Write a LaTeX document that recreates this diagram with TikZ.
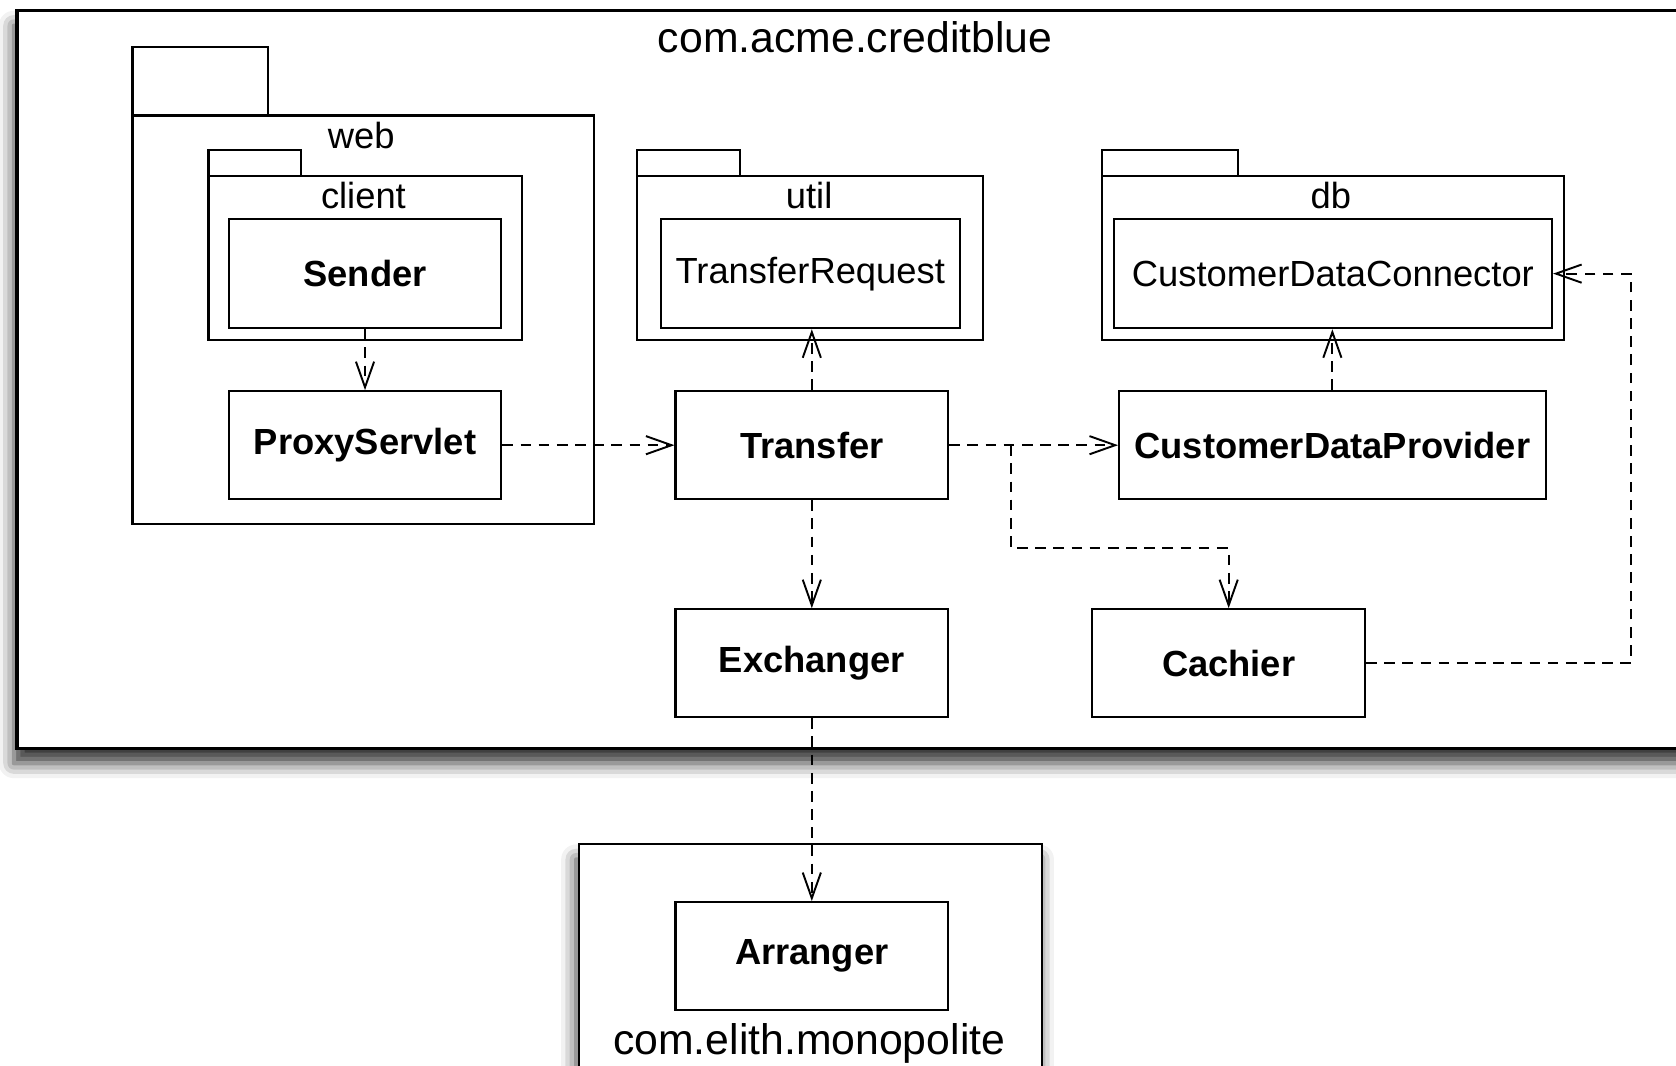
\documentclass[tikz,border=0pt]{standalone}
\usepackage{fontspec}
\setmainfont{Liberation Sans}
\usetikzlibrary{arrows.meta,fit,shadows.blur}
\begin{document}
\begin{tikzpicture}[x=0.5pt,y=-0.5pt,
  box/.style={draw,line width=1pt,fill=white,inner sep=0pt},
  sz/.style 2 args={minimum width=#1*0.5pt,minimum height=#2*0.5pt},
  cls/.style={font=\fontsize{17}{20}\selectfont\bfseries},
  reg/.style={font=\fontsize{17}{20}\selectfont},
  big/.style={font=\fontsize{20}{24}\selectfont},
  shade/.style={blur shadow={shadow xshift=-1.5pt,shadow yshift=-7pt,shadow blur radius=7pt,shadow opacity=80}},
  dep/.style={draw,line width=0.9pt,dash pattern=on 5pt off 3.5pt,-{Straight Barb[length=12pt,width=8.5pt,line width=0.9pt]}},
]
\useasboundingbox (0,0) rectangle (1568,997);
\clip (0,0) rectangle (1568,997);
% outer package
\node[box,line width=1.5pt,shade,fit={(16,10) (1620,700)}] (outer) {};
\node[big] (outerlbl) at (800,35) {com.acme.creditblue};
% lower package
\node[box,shade,fit={(542,790) (975,1030)}] (mono) {};
\node[big] (monolbl) at (757,976) {com.elith.monopolite};
% web package
\node[box,fit={(124,44) (251,108)}] (webtab) {};
\node[box,fit={(124,108) (556,490)}] (web) {};
\node[reg] (weblbl) at (338,127) {web};
% client package
\node[box,fit={(195,140) (282,165)}] (clienttab) {};
\node[box,fit={(195,165) (488,318)}] (client) {};
\node[reg] (clientlbl) at (340,183) {client};
% util package
\node[box,fit={(596,140) (692,165)}] (utiltab) {};
\node[box,fit={(596,165) (920,318)}] (util) {};
\node[reg] (utillbl) at (757,183) {util};
% db package
\node[box,fit={(1031,140) (1158,165)}] (dbtab) {};
\node[box,fit={(1031,165) (1463,318)}] (db) {};
\node[reg] (dblbl) at (1245,183) {db};
% classes
\node[box,cls,sz={255}{102}] (sender) at (341.5,256) {Sender};
\node[box,cls,sz={255}{101}] (proxy) at (341.5,416.5) {ProxyServlet};
\node[box,reg,sz={280}{102}] (treq) at (758,256) {TransferRequest};
\node[box,reg,sz={410}{102}] (cdc) at (1247,256) {CustomerDataConnector};
\node[box,cls,sz={255}{101}] (transfer) at (759.5,416.5) {Transfer};
\node[box,cls,sz={399}{101}] (cdp) at (1246.5,416.5) {CustomerDataProvider};
\node[box,cls,sz={255}{101}] (exch) at (759.5,620.5) {Exchanger};
\node[box,cls,sz={255}{101}] (cachier) at (1149.5,620.5) {Cachier};
\node[box,cls,sz={255}{101}] (arr) at (759.5,894.5) {Arranger};
% connectors
\coordinate (tc) at (946,513);
\coordinate (cc) at (1526,620);
\draw[dep] (sender.south) -- (proxy.north);
\draw[dep] (proxy.east) -- (transfer.west);
\draw[dep] (transfer.north) -- (transfer.north |- treq.south);
\draw[dep] (transfer.east) -- (cdp.west);
\draw[dep] (cdp.north) -- (cdp.north |- cdc.south);
\draw[dep] (transfer.east -| tc) -- (tc) -| (cachier.north);
\draw[dep] (transfer.south) -- (exch.north);
\draw[dep] (cachier.east) -- (cc |- cachier.east) -- (cc |- cdc.east) -- (cdc.east);
\draw[dep] (exch.south) -- (arr.north);
\end{tikzpicture}
\end{document}
